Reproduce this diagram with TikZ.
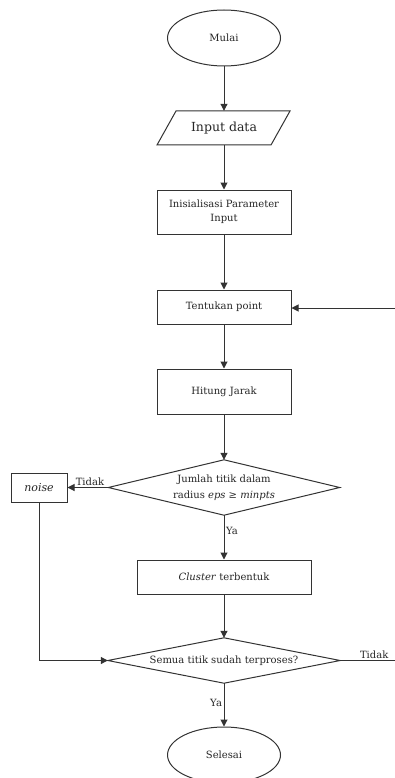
\documentclass[tikz,border=0pt]{standalone}
\usepackage{fontspec}
\setmainfont{DejaVu Serif}
\usetikzlibrary{arrows.meta,shapes.geometric}
\definecolor{ln}{HTML}{333333}
\tikzset{
  base/.style={draw=ln, line width=1pt, inner sep=0pt, align=center, font=\fontsize{10}{14}\selectfont, text=black!85},
  term/.style={base, ellipse, minimum width=113pt, minimum height=56pt},
  proc/.style={base, rectangle, minimum width=134pt},
  dectext/.style={inner sep=0pt, align=center, font=\fontsize{10}{16}\selectfont, text=black!85},
  arr/.style={draw=ln, line width=1pt, -{Triangle[length=7pt,width=7pt]}},
  ln/.style={draw=ln, line width=1pt},
  lbl/.style={font=\fontsize{10}{12}\selectfont, text=black!85, inner sep=1.5pt}
}
\begin{document}
\begin{tikzpicture}[x=1pt,y=-1pt]
\useasboundingbox (0,0) rectangle (395,778);
\fill[white] (0,0) rectangle (395,778);
\node[term] (mulai) at (224,38) {Mulai};
\node[inner sep=0pt, minimum width=114pt, minimum height=34pt, font=\fontsize{12.5}{14}\selectfont, text=black!85] (inp) at (224,128) {Input data};
\draw[ln] (176,111) -- (290,111) -- (271,145) -- (157,145) -- cycle;
\node[proc, minimum height=44pt] (init) at (224,212) {Inisialisasi Parameter\\Input};
\node[proc, minimum height=34pt] (tent) at (224,307) {Tentukan point};
\node[proc, minimum height=45pt] (hit) at (224,391.5) {Hitung Jarak};
\node[dectext, minimum width=231pt, minimum height=55pt] (d1) at (224,487.5) {Jumlah titik dalam\\radius \textit{eps} ≥ \textit{minpts}};
\draw[ln] (d1.north) -- (d1.east) -- (d1.south) -- (d1.west) -- cycle;
\node[base, rectangle, minimum width=56pt, minimum height=29pt, font=\fontsize{11}{12}\selectfont] (noise) at (39,487.5) {\textit{noise}};
\node[base, rectangle, minimum width=174pt, minimum height=34pt] (clus) at (224,577) {\textit{Cluster} terbentuk};
\node[dectext, minimum width=232pt, minimum height=45pt] (d2) at (224,660.5) {Semua titik sudah terproses?};
\draw[ln] (d2.north) -- (d2.east) -- (d2.south) -- (d2.west) -- cycle;
\node[term] (sel) at (224,755) {Selesai};
\coordinate (rin) at (395,308);
\coordinate (rout) at (395,660.5);
\draw[arr] (mulai) -- (inp);
\draw[arr] (inp) -- (init);
\draw[arr] (init) -- (tent);
\draw[arr] (rin) -- (tent.east |- rin);
\draw[arr] (tent) -- (hit);
\draw[arr] (hit) -- (d1);
\draw[arr] (d1.west) -- node[lbl, above, pos=0.45] {Tidak} (noise.east);
\draw[arr] (d1.south) -- node[lbl, right, pos=0.35] {Ya} (clus.north);
\draw[arr] (clus) -- (d2);
\draw[arr] (noise.south) -- (noise.south |- d2.west) -- (d2.west);
\draw[ln] (d2.east) -- node[lbl, above, pos=0.62] {Tidak} (rout);
\draw[arr] (d2.south) -- node[lbl, left, pos=0.45] {Ya} (sel.north);
\end{tikzpicture}
\end{document}
